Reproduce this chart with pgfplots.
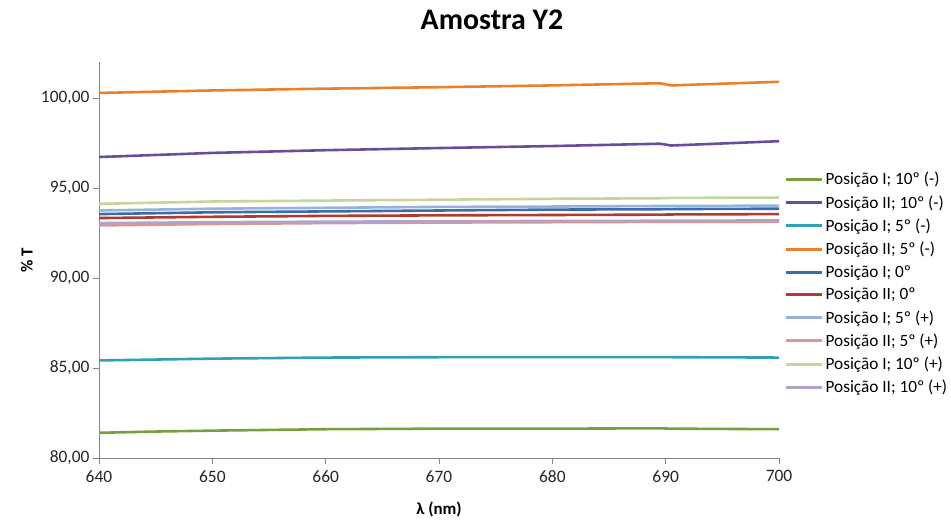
\documentclass[border=0pt]{standalone}
\usepackage{fontspec}
\setmainfont{Carlito}
\usepackage{pgfplots}
\pgfplotsset{compat=1.18}
\definecolor{cg}{HTML}{77A03C}
\definecolor{cp}{HTML}{6A4C9C}
\definecolor{ct}{HTML}{31A0B6}
\definecolor{co}{HTML}{E8802C}
\definecolor{cb}{HTML}{3A6BAE}
\definecolor{cr}{HTML}{B03A2E}
\definecolor{clb}{HTML}{95B3D7}
\definecolor{cpk}{HTML}{D99694}
\definecolor{clg}{HTML}{C3D69B}
\definecolor{clv}{HTML}{B3A2C7}
\definecolor{axc}{HTML}{868686}
\begin{document}
\begin{tikzpicture}
\begin{axis}[name=ax,
  scale only axis, width=680bp, height=396bp,
  xmin=640, xmax=700, ymin=80, ymax=102,
  xtick={640,650,...,700}, ytick={80,85,...,100},
  axis lines*=left, axis line style={axc, line width=0.9pt},
  tick style={axc, line width=0.9pt}, tick align=outside, major tick length=6bp,
  /pgf/number format/assume math mode=true,
  yticklabel style={/pgf/number format/fixed, /pgf/number format/fixed zerofill, /pgf/number format/precision=2, /pgf/number format/use comma, /pgf/number format/1000 sep={}},
  xticklabel style={/pgf/number format/1000 sep={}, yshift=-3bp},
  ticklabel style={font=\fontsize{17.5}{20}\selectfont, text=black!85},
  xlabel={\textbf{λ (nm)}}, ylabel={\textbf{\% T}},
  label style={font=\fontsize{17}{20}\selectfont},
  ylabel style={at={(axis description cs:-0.106,0.5)}, anchor=center},
  xlabel style={at={(axis description cs:0.5,-0.131)}, anchor=center},
  title={\textbf{Amostra Y2}}, title style={font=\fontsize{30}{34}\selectfont, at={(axis description cs:0.578,1.0)}, anchor=center, yshift=36bp},
  legend style={draw=none, fill=none, at={(1.008,0.727)}, anchor=north west, font=\fontsize{17.3}{20}\selectfont, row sep=5.2bp, inner xsep=0pt, inner ysep=0pt},
  legend cell align=left,
  legend image post style={line width=3pt},
  legend image code/.code={\draw[#1] (0bp,0bp) -- (36bp,0bp);},
  every axis plot/.append style={line width=2.6pt, mark=none},
]
\addplot[cg] coordinates {(640,81.40)(645,81.47)(650,81.52)(660,81.60)(670,81.63)(680,81.63)(689.5,81.65)(690.5,81.63)(700,81.60)};
\addlegendentry{Posição I; 10º (-)}
\addplot[cp] coordinates {(640,96.72)(650,96.95)(660,97.10)(670,97.22)(680,97.33)(689.5,97.46)(690.5,97.36)(700,97.60)};
\addlegendentry{Posição II; 10º (-)}
\addplot[ct] coordinates {(640,85.42)(650,85.52)(660,85.58)(670,85.60)(680,85.60)(689.5,85.60)(690.5,85.60)(700,85.58)};
\addlegendentry{Posição I; 5º (-)}
\addplot[co] coordinates {(640,100.28)(650,100.42)(660,100.52)(670,100.60)(680,100.70)(689.5,100.82)(690.5,100.70)(700,100.90)};
\addlegendentry{Posição II; 5º (-)}
\addplot[cb] coordinates {(640,93.55)(650,93.65)(660,93.70)(670,93.75)(680,93.80)(689.5,93.82)(690.5,93.83)(700,93.85)};
\addlegendentry{Posição I; 0º}
\addplot[cr] coordinates {(640,93.33)(650,93.40)(660,93.45)(670,93.48)(680,93.50)(689.5,93.52)(690.5,93.53)(700,93.55)};
\addlegendentry{Posição II; 0º}
\addplot[clb] coordinates {(640,93.75)(650,93.85)(660,93.90)(670,93.95)(680,93.97)(689.5,94.00)(690.5,94.00)(700,94.02)};
\addlegendentry{Posição I; 5º (+)}
\addplot[cpk] coordinates {(640,92.92)(650,93.00)(660,93.05)(670,93.08)(680,93.10)(689.5,93.12)(690.5,93.12)(700,93.13)};
\addlegendentry{Posição II; 5º (+)}
\addplot[clg] coordinates {(640,94.12)(650,94.25)(660,94.30)(670,94.35)(680,94.40)(689.5,94.43)(690.5,94.45)(700,94.47)};
\addlegendentry{Posição I; 10º (+)}
\addplot[clv] coordinates {(640,93.05)(650,93.10)(660,93.13)(670,93.15)(680,93.17)(689.5,93.18)(690.5,93.18)(700,93.20)};
\addlegendentry{Posição II; 10º (+)}
\end{axis}
\path[use as bounding box] ([xshift=-99bp,yshift=-63bp]ax.south west) rectangle ([xshift=172bp,yshift=62bp]ax.north east);
\end{tikzpicture}
\end{document}
